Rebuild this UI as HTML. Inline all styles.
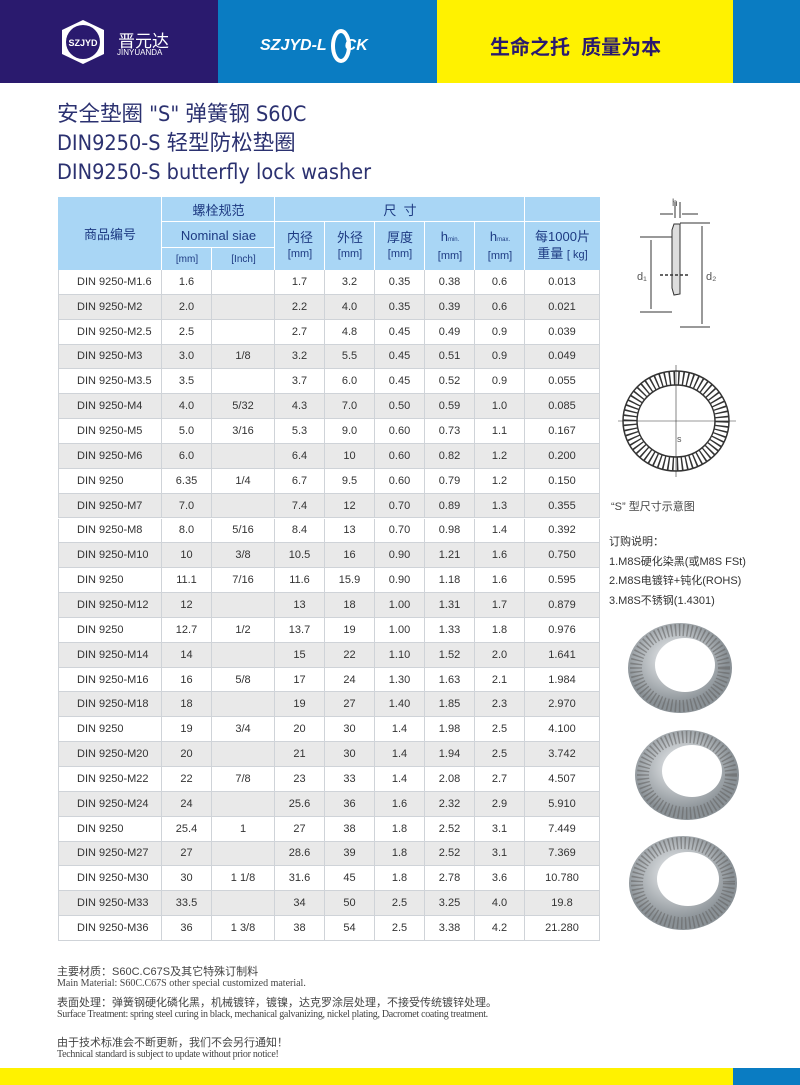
<!DOCTYPE html>
<html><head><meta charset="utf-8"><style>
*{margin:0;padding:0;box-sizing:border-box}
body{width:800px;height:1085px;position:relative;background:#fff;font-family:"Liberation Sans","Noto Sans CJK SC",sans-serif;overflow:hidden}
.abs{position:absolute}
.title{left:57px;color:#2b3170;font-size:21.5px;font-family:"DejaVu Sans Condensed","Noto Sans CJK SC",sans-serif;white-space:nowrap;line-height:24px}
.row{position:absolute;left:58px;width:542px;height:24.85px;display:flex;font-size:11px;color:#333;border-bottom:1px solid #cfd3d8}
.row div{height:100%;display:flex;align-items:center;justify-content:center;border-right:1px solid #cfd3d8}
.row div:first-child{justify-content:flex-start;padding-left:18px;border-left:1px solid #cfd3d8}
.row div:nth-child(1){width:104px}.row div:nth-child(2){width:50px}.row div:nth-child(3){width:63px}.row div:nth-child(n+4){width:50px}.row div:nth-child(9){width:75px}
.g{background:#e9e9e9}
.h{position:absolute;background:#a9d6f5;color:#1d3a82;display:flex;flex-direction:column;align-items:center;justify-content:center;text-align:center;font-size:13px;outline:1px solid #fff;outline-offset:-0.5px;white-space:nowrap}
.h span.s{font-size:11px}
.foot{left:57px;color:#444;white-space:nowrap}
</style></head><body>
<div class="abs" style="left:0;top:0;width:218px;height:83px;background:#2a1a6e"></div>
<div class="abs" style="left:218px;top:0;width:219px;height:83px;background:#0a7cc2"></div>
<div class="abs" style="left:437px;top:0;width:296px;height:83px;background:#fff200"></div>
<div class="abs" style="left:733px;top:0;width:67px;height:83px;background:#0a7cc2"></div>
<svg class="abs" style="left:58px;top:18px" width="50" height="48"><polygon points="25,2 46,12 46,36 25,46 4,36 4,12" fill="#fff"/><circle cx="25" cy="24" r="17" fill="#2a1a6e"/><text x="25" y="28" font-size="9" fill="#fff" text-anchor="middle" font-weight="bold" font-family="Liberation Sans">SZJYD</text></svg>
<div class="abs" style="left:118px;top:27px;color:#fff;font-size:17px">晋元达</div>
<div class="abs" style="left:117px;top:48px;color:#fff;font-size:8px">JINYUANDA</div>
<div class="abs" style="left:260px;top:37px;color:#fff;font-size:16px;font-style:italic;font-weight:bold">SZJYD-L<span style="display:inline-block;width:18px"></span>CK</div>
<svg class="abs" style="left:330px;top:28px" width="22" height="36"><ellipse cx="11" cy="18" rx="8" ry="15" fill="none" stroke="#fff" stroke-width="4"/></svg>
<div class="abs" style="left:490px;top:31px;color:#2a1a6e;font-size:20px;font-weight:bold;white-space:nowrap">生命之托&nbsp; 质量为本</div>
<div class="abs title" style="top:103px">安全垫圈 "S" 弹簧钢 S60C</div>
<div class="abs title" style="top:132px">DIN9250-S 轻型防松垫圈</div>
<div class="abs title" style="top:161px">DIN9250-S butterfly lock washer</div>

<div class="h" style="left:58px;top:197px;width:104px;height:73px">商品编号</div>
<div class="h" style="left:162px;top:197px;width:113px;height:25px">螺栓规范</div>
<div class="h" style="left:162px;top:222px;width:113px;height:26px">Nominal siae</div>
<div class="h" style="left:162px;top:248px;width:50px;height:22px;font-size:10px">[mm]</div>
<div class="h" style="left:212px;top:248px;width:63px;height:22px;font-size:10px">[Inch]</div>
<div class="h" style="left:275px;top:197px;width:250px;height:25px">尺&nbsp; 寸</div>
<div class="h" style="left:525px;top:197px;width:75px;height:25px"></div>
<div class="h" style="left:275px;top:222px;width:50px;height:48px;line-height:16px"><div>内径</div><span class="s">[mm]</span></div>
<div class="h" style="left:325px;top:222px;width:50px;height:48px;line-height:16px"><div>外径</div><span class="s">[mm]</span></div>
<div class="h" style="left:375px;top:222px;width:50px;height:48px;line-height:16px"><div>厚度</div><span class="s">[mm]</span></div>
<div class="h" style="left:425px;top:222px;width:50px;height:48px;line-height:16px"><div>h<span style="font-size:6px">min.</span></div><span class="s">[mm]</span></div>
<div class="h" style="left:475px;top:222px;width:50px;height:48px;line-height:16px"><div>h<span style="font-size:6px">max.</span></div><span class="s">[mm]</span></div>
<div class="h" style="left:525px;top:222px;width:75px;height:48px;line-height:17px"><div>每1000片</div><div>重量 <span class="s">[ kg]</span></div></div>

<div class="row" style="top:270.0px"><div>DIN 9250-M1.6</div><div>1.6</div><div></div><div>1.7</div><div>3.2</div><div>0.35</div><div>0.38</div><div>0.6</div><div>0.013</div></div>
<div class="row g" style="top:294.85px"><div>DIN 9250-M2</div><div>2.0</div><div></div><div>2.2</div><div>4.0</div><div>0.35</div><div>0.39</div><div>0.6</div><div>0.021</div></div>
<div class="row" style="top:319.7px"><div>DIN 9250-M2.5</div><div>2.5</div><div></div><div>2.7</div><div>4.8</div><div>0.45</div><div>0.49</div><div>0.9</div><div>0.039</div></div>
<div class="row g" style="top:344.55px"><div>DIN 9250-M3</div><div>3.0</div><div>1/8</div><div>3.2</div><div>5.5</div><div>0.45</div><div>0.51</div><div>0.9</div><div>0.049</div></div>
<div class="row" style="top:369.4px"><div>DIN 9250-M3.5</div><div>3.5</div><div></div><div>3.7</div><div>6.0</div><div>0.45</div><div>0.52</div><div>0.9</div><div>0.055</div></div>
<div class="row g" style="top:394.25px"><div>DIN 9250-M4</div><div>4.0</div><div>5/32</div><div>4.3</div><div>7.0</div><div>0.50</div><div>0.59</div><div>1.0</div><div>0.085</div></div>
<div class="row" style="top:419.1px"><div>DIN 9250-M5</div><div>5.0</div><div>3/16</div><div>5.3</div><div>9.0</div><div>0.60</div><div>0.73</div><div>1.1</div><div>0.167</div></div>
<div class="row g" style="top:443.95px"><div>DIN 9250-M6</div><div>6.0</div><div></div><div>6.4</div><div>10</div><div>0.60</div><div>0.82</div><div>1.2</div><div>0.200</div></div>
<div class="row" style="top:468.8px"><div>DIN 9250</div><div>6.35</div><div>1/4</div><div>6.7</div><div>9.5</div><div>0.60</div><div>0.79</div><div>1.2</div><div>0.150</div></div>
<div class="row g" style="top:493.65px"><div>DIN 9250-M7</div><div>7.0</div><div></div><div>7.4</div><div>12</div><div>0.70</div><div>0.89</div><div>1.3</div><div>0.355</div></div>
<div class="row" style="top:518.5px"><div>DIN 9250-M8</div><div>8.0</div><div>5/16</div><div>8.4</div><div>13</div><div>0.70</div><div>0.98</div><div>1.4</div><div>0.392</div></div>
<div class="row g" style="top:543.35px"><div>DIN 9250-M10</div><div>10</div><div>3/8</div><div>10.5</div><div>16</div><div>0.90</div><div>1.21</div><div>1.6</div><div>0.750</div></div>
<div class="row" style="top:568.2px"><div>DIN 9250</div><div>11.1</div><div>7/16</div><div>11.6</div><div>15.9</div><div>0.90</div><div>1.18</div><div>1.6</div><div>0.595</div></div>
<div class="row g" style="top:593.05px"><div>DIN 9250-M12</div><div>12</div><div></div><div>13</div><div>18</div><div>1.00</div><div>1.31</div><div>1.7</div><div>0.879</div></div>
<div class="row" style="top:617.9px"><div>DIN 9250</div><div>12.7</div><div>1/2</div><div>13.7</div><div>19</div><div>1.00</div><div>1.33</div><div>1.8</div><div>0.976</div></div>
<div class="row g" style="top:642.75px"><div>DIN 9250-M14</div><div>14</div><div></div><div>15</div><div>22</div><div>1.10</div><div>1.52</div><div>2.0</div><div>1.641</div></div>
<div class="row" style="top:667.6px"><div>DIN 9250-M16</div><div>16</div><div>5/8</div><div>17</div><div>24</div><div>1.30</div><div>1.63</div><div>2.1</div><div>1.984</div></div>
<div class="row g" style="top:692.45px"><div>DIN 9250-M18</div><div>18</div><div></div><div>19</div><div>27</div><div>1.40</div><div>1.85</div><div>2.3</div><div>2.970</div></div>
<div class="row" style="top:717.3px"><div>DIN 9250</div><div>19</div><div>3/4</div><div>20</div><div>30</div><div>1.4</div><div>1.98</div><div>2.5</div><div>4.100</div></div>
<div class="row g" style="top:742.15px"><div>DIN 9250-M20</div><div>20</div><div></div><div>21</div><div>30</div><div>1.4</div><div>1.94</div><div>2.5</div><div>3.742</div></div>
<div class="row" style="top:767.0px"><div>DIN 9250-M22</div><div>22</div><div>7/8</div><div>23</div><div>33</div><div>1.4</div><div>2.08</div><div>2.7</div><div>4.507</div></div>
<div class="row g" style="top:791.85px"><div>DIN 9250-M24</div><div>24</div><div></div><div>25.6</div><div>36</div><div>1.6</div><div>2.32</div><div>2.9</div><div>5.910</div></div>
<div class="row" style="top:816.7px"><div>DIN 9250</div><div>25.4</div><div>1</div><div>27</div><div>38</div><div>1.8</div><div>2.52</div><div>3.1</div><div>7.449</div></div>
<div class="row g" style="top:841.55px"><div>DIN 9250-M27</div><div>27</div><div></div><div>28.6</div><div>39</div><div>1.8</div><div>2.52</div><div>3.1</div><div>7.369</div></div>
<div class="row" style="top:866.4px"><div>DIN 9250-M30</div><div>30</div><div>1 1/8</div><div>31.6</div><div>45</div><div>1.8</div><div>2.78</div><div>3.6</div><div>10.780</div></div>
<div class="row g" style="top:891.25px"><div>DIN 9250-M33</div><div>33.5</div><div></div><div>34</div><div>50</div><div>2.5</div><div>3.25</div><div>4.0</div><div>19.8</div></div>
<div class="row" style="top:916.1px"><div>DIN 9250-M36</div><div>36</div><div>1 3/8</div><div>38</div><div>54</div><div>2.5</div><div>3.38</div><div>4.2</div><div>21.280</div></div>

<svg class="abs" style="left:600px;top:190px" width="200" height="430">
<g stroke="#333" fill="none" stroke-width="1">
<polygon points="74,34 80,34 80,104 74,105 72,98 72,40" fill="#ddd"/>
<line x1="40" y1="47" x2="72" y2="47"/><line x1="40" y1="122" x2="72" y2="122"/>
<line x1="51" y1="50" x2="51" y2="119"/>
<line x1="80" y1="33" x2="110" y2="33"/><line x1="80" y1="137" x2="110" y2="137"/>
<line x1="102" y1="36" x2="102" y2="134"/>
<line x1="60" y1="85" x2="90" y2="85" stroke-dasharray="3 2" stroke-width="1.5"/>
<line x1="75" y1="12" x2="75" y2="28"/><line x1="80" y1="12" x2="80" y2="28"/>
<line x1="60" y1="24" x2="73" y2="24"/><line x1="82" y1="24" x2="98" y2="24"/>
<ellipse cx="76" cy="231" rx="53" ry="50" stroke-width="1.5"/>
<ellipse cx="76" cy="231" rx="39" ry="36" stroke-width="1.5"/>
<ellipse cx="76" cy="231" rx="46" ry="43" stroke-width="13" stroke-dasharray="1.5 3"/>
<line x1="76" y1="175" x2="76" y2="287" stroke-width=".6"/><line x1="18" y1="231" x2="136" y2="231" stroke-width=".6"/>
</g>
<text x="37" y="90" font-size="11" fill="#555">d₁</text><text x="106" y="90" font-size="11" fill="#555">d₂</text>
<text x="72" y="16" font-size="10" fill="#555">h</text><text x="77" y="252" font-size="9" fill="#555">s</text>
</svg>
<div class="abs" style="left:611px;top:498px;font-size:11px;color:#444">“S” 型尺寸示意图</div>
<div class="abs" style="left:609px;top:533px;font-size:11px;color:#333;line-height:19.5px">订购说明：<br>1.M8S硬化染黑(或M8S FSt)<br>2.M8S电镀锌+钝化(ROHS)<br>3.M8S不锈钢(1.4301)</div>
<svg class="abs" style="left:615px;top:615px" width="130" height="330">
<defs><radialGradient id="m" cx="45%" cy="40%"><stop offset="0" stop-color="#f4f6f8"/><stop offset="1" stop-color="#8a9196"/></radialGradient></defs>
<g><ellipse cx="65" cy="53" rx="52" ry="45" fill="url(#m)"/><ellipse cx="65" cy="53" rx="44" ry="38" fill="none" stroke="#666" stroke-width="12" stroke-dasharray="1.5 2.5" opacity=".6"/><ellipse cx="70" cy="50" rx="30" ry="27" fill="#fff"/></g>
<g><ellipse cx="72" cy="160" rx="52" ry="45" fill="url(#m)"/><ellipse cx="72" cy="160" rx="44" ry="38" fill="none" stroke="#666" stroke-width="12" stroke-dasharray="1.5 2.5" opacity=".6"/><ellipse cx="77" cy="156" rx="30" ry="26" fill="#fff"/></g>
<g><ellipse cx="68" cy="268" rx="54" ry="47" fill="url(#m)"/><ellipse cx="68" cy="268" rx="46" ry="40" fill="none" stroke="#666" stroke-width="12" stroke-dasharray="1.5 2.5" opacity=".6"/><ellipse cx="73" cy="264" rx="31" ry="27" fill="#fff"/></g>
</svg>
<div class="abs foot" style="top:963px;font-size:11px">主要材质：S60C.C67S及其它特殊订制料</div>
<div class="abs foot" style="top:978px;font-size:10px;font-family:'Liberation Serif',serif">Main Material: S60C.C67S other special customized material.</div>
<div class="abs foot" style="top:994px;font-size:11px">表面处理：弹簧钢硬化磷化黑，机械镀锌，镀镍，达克罗涂层处理，不接受传统镀锌处理。</div>
<div class="abs foot" style="top:1009px;font-size:10px;font-family:'Liberation Serif',serif;letter-spacing:-.3px">Surface Treatment: spring steel curing in black, mechanical galvanizing, nickel plating, Dacromet coating treatment.</div>
<div class="abs foot" style="top:1034px;font-size:11px">由于技术标准会不断更新，我们不会另行通知！</div>
<div class="abs foot" style="top:1049px;font-size:10px;font-family:'Liberation Serif',serif;letter-spacing:-.3px">Technical standard is subject to update without prior notice!</div>
<div class="abs" style="left:0;top:1068px;width:733px;height:17px;background:#fff200"></div>
<div class="abs" style="left:733px;top:1068px;width:67px;height:17px;background:#0a7cc2"></div>
</body></html>
